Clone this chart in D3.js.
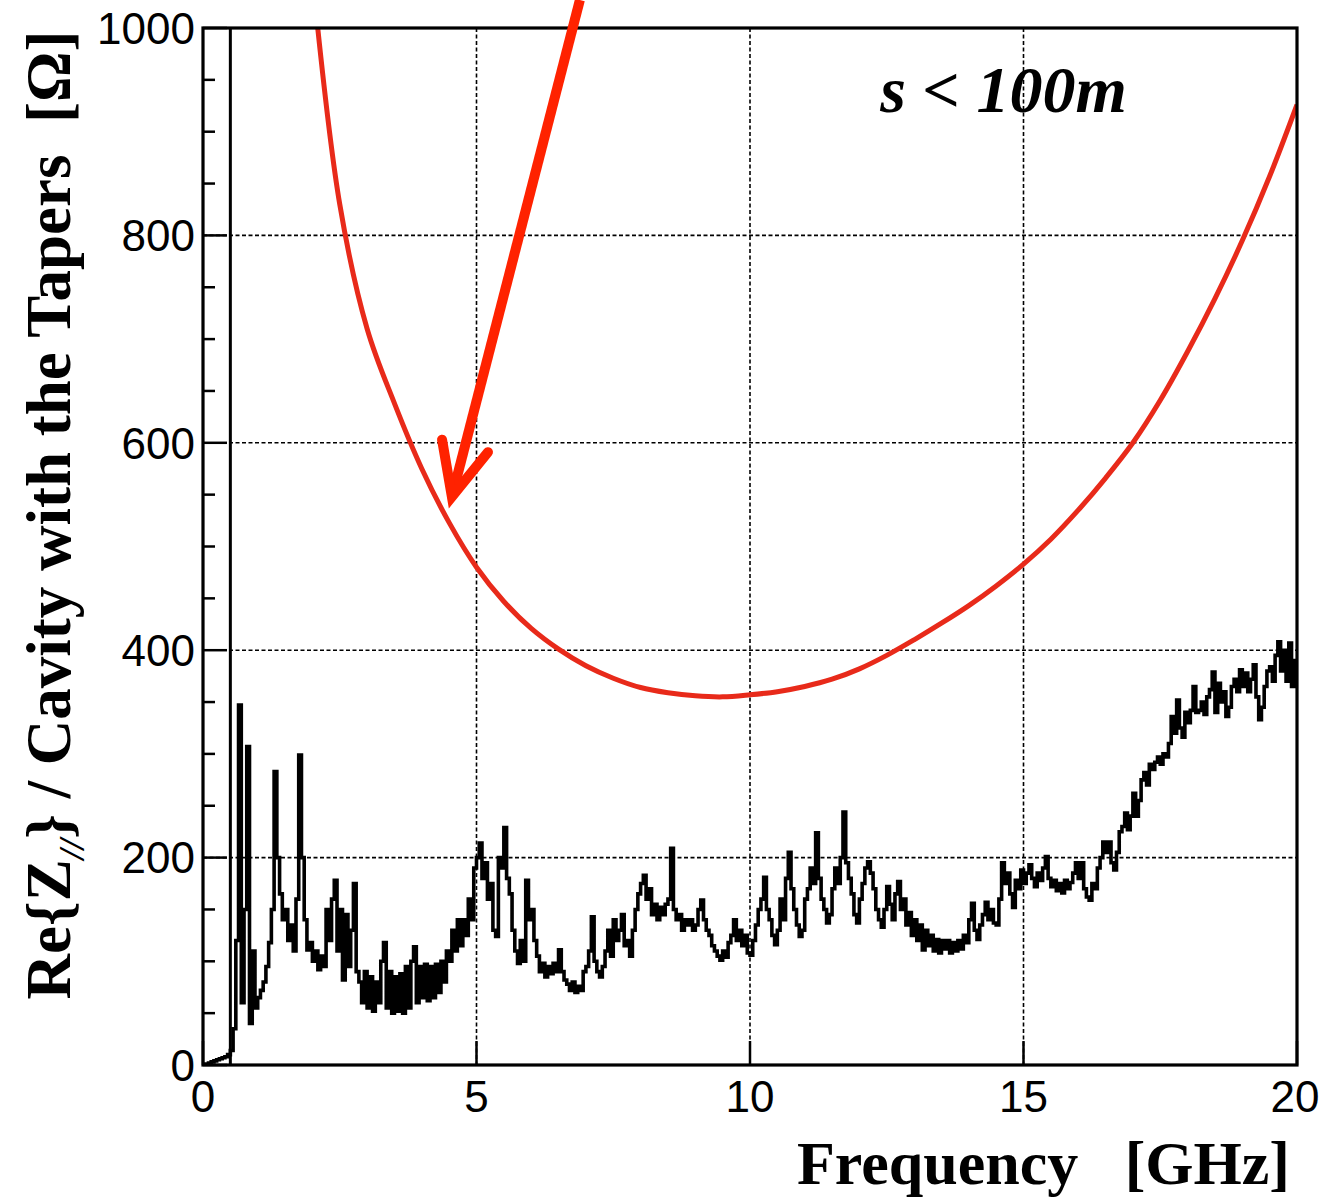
<!DOCTYPE html>
<html><head><meta charset="utf-8">
<script src="https://cdn.jsdelivr.net/npm/d3@7"></script>
<style>body{margin:0;background:#fff}svg{display:block}</style>
</head><body><svg id="c" width="1329" height="1202"></svg>
<script>
// ---- data ----
const xTicks = [0, 5, 10, 15, 20];
const yTicks = [0, 200, 400, 600, 800, 1000];
const yMinorStep = 50;
const binWidth = 0.05; // GHz per histogram bin
const measured = [
  0,1,2,3,4,5,6,7,8,10,14,35,120,347,60,150,307,40,110,55,
  65,72,80,95,118,150,283,200,165,140,150,120,135,110,160,299,200,140,111,118,
  100,110,92,105,95,150,120,160,178,110,150,82,145,95,130,175,90,80,60,90,
  55,85,52,80,60,100,118,55,90,50,85,52,88,50,95,55,100,114,60,95,
  65,97,62,95,65,97,70,100,80,110,100,130,110,140,115,140,125,160,140,190,
  200,214,180,195,160,175,130,124,200,190,229,180,165,130,110,98,120,100,178,140,
  150,120,105,90,98,85,95,88,98,90,111,90,82,78,72,80,70,76,72,90,
  95,110,143,100,90,85,95,110,130,105,140,120,130,145,115,120,105,130,150,165,
  175,183,160,170,145,155,140,152,145,155,160,209,150,140,145,130,140,135,140,130,
  135,150,159,140,130,125,115,110,105,101,110,104,118,125,140,120,130,115,125,108,
  106,120,135,150,160,181,150,140,125,116,130,160,140,180,205,170,150,135,124,130,
  160,170,190,175,224,180,160,150,137,145,170,190,175,200,244,195,180,165,145,137,
  160,175,190,196,185,170,150,140,133,150,172,155,140,165,177,150,160,135,147,125,
  140,120,135,111,130,115,125,110,121,108,120,112,120,108,118,110,120,112,125,118,
  140,156,130,121,135,145,157,140,150,137,135,160,195,175,185,165,152,178,170,188,
  175,185,193,180,172,185,178,190,201,180,172,178,168,175,166,178,170,176,185,195,
  180,195,170,162,159,175,170,190,200,215,205,215,195,188,205,225,230,243,227,240,
  262,240,255,275,282,270,290,285,292,297,290,300,297,310,336,320,352,325,316,340,
  330,342,365,340,342,350,338,355,362,379,340,368,350,360,336,345,365,372,360,381,
  365,378,360,372,386,355,333,345,365,380,384,370,395,408,380,400,370,407,365,390
];
const modelFreq = [2.0, 2.5, 3.0, 3.5, 4.0, 4.5, 5.0, 5.5, 6.0, 6.5, 7.0, 7.5, 8.0, 8.5, 9.0, 9.5, 10.0,
                   10.5, 11.0, 11.5, 12.0, 12.5, 13.0, 13.5, 14.0, 14.5, 15.0, 15.5, 16.0, 16.5, 17.0, 17.5, 18.0, 18.5, 19.0, 19.5, 20.0];
const modelZ    = [1050, 830, 710, 638, 575, 523, 480, 447, 421, 401, 385, 373, 364, 359, 356, 355, 357,
                   360, 365, 372, 382, 395, 410, 426, 443, 462, 483, 507, 535, 566, 600, 641, 688, 739, 795, 857, 926];
const cutoffFreq = 0.5;
const arrowShaft = [[6.89, 1027], [4.55, 548]];
const arrowHead = [[4.37, 603], [4.55, 548], [5.21, 591]];
const noteText = "s < 100m";
const noteAt = [12.38, 919];

// ---- layout ----
const W = 1329, H = 1202;
const m = {l: 203, t: 28, r: 32, b: 137};
const x = d3.scaleLinear().domain([0, 20]).range([m.l, W - m.r]);
const y = d3.scaleLinear().domain([0, 1000]).range([H - m.b, m.t]);
const svg = d3.select("#c");
const sans = "'Liberation Sans', Arial, sans-serif";
const serif = "'Liberation Serif', 'Times New Roman', serif";

svg.append("defs").append("clipPath").attr("id", "clip")
  .append("rect").attr("x", x(0)).attr("y", y(1000)).attr("width", x(20) - x(0)).attr("height", y(0) - y(1000));

// grid
const grid = svg.append("g").attr("stroke", "#000").attr("stroke-width", 1.6).attr("stroke-dasharray", "4,2.5");
grid.selectAll(".gx").data(xTicks.slice(1, -1)).join("line")
  .attr("x1", d => x(d)).attr("x2", d => x(d)).attr("y1", y(1000)).attr("y2", y(0));
grid.selectAll(".gy").data(yTicks.slice(1, -1)).join("line")
  .attr("y1", d => y(d)).attr("y2", d => y(d)).attr("x1", x(0)).attr("x2", x(20));

// ticks
const tk = svg.append("g").attr("stroke", "#000").attr("stroke-width", 2.5);
const yMinor = d3.range(0, 1000 + 1, yMinorStep);
tk.selectAll(".ym").data(yMinor).join("line")
  .attr("x1", x(0)).attr("x2", d => x(0) + (yTicks.includes(d) ? 24 : 12))
  .attr("y1", d => y(d)).attr("y2", d => y(d));
tk.selectAll(".xm").data(xTicks).join("line")
  .attr("x1", d => x(d)).attr("x2", d => x(d))
  .attr("y1", y(0)).attr("y2", y(0) - 24);

// cutoff line
svg.append("line").attr("x1", x(cutoffFreq)).attr("x2", x(cutoffFreq))
  .attr("y1", y(1000)).attr("y2", y(0)).attr("stroke", "#000").attr("stroke-width", 3);

// measured histogram
const pts = measured.map((v, i) => [i * binWidth, v]);
pts.push([20, measured[measured.length - 1]]);
svg.append("path").datum(pts)
  .attr("clip-path", "url(#clip)")
  .attr("fill", "none").attr("stroke", "#000").attr("stroke-width", 3.6)
  .attr("stroke-linejoin", "miter")
  .attr("d", d3.line().x(d => x(d[0])).y(d => y(d[1])).curve(d3.curveStepAfter));

// model curve
svg.append("path").datum(modelFreq.map((f, i) => [f, modelZ[i]]))
  .attr("clip-path", "url(#clip)")
  .attr("fill", "none").attr("stroke", "#e82a1a").attr("stroke-width", 5)
  .attr("d", d3.line().x(d => x(d[0])).y(d => y(d[1])).curve(d3.curveCatmullRom));

// frame
svg.append("rect").attr("x", x(0)).attr("y", y(1000)).attr("width", x(20) - x(0)).attr("height", y(0) - y(1000))
  .attr("fill", "none").attr("stroke", "#000").attr("stroke-width", 3.2);

// tick labels
svg.append("g").selectAll("text").data(yTicks).join("text")
  .attr("x", x(0) - 8).attr("y", d => y(d)).attr("dy", "0.36em")
  .attr("text-anchor", "end").attr("font-family", sans).attr("font-size", 44)
  .text(d => d);
svg.append("g").selectAll("text").data(xTicks).join("text")
  .attr("x", d => x(d) + (d === 20 ? -2 : 0)).attr("y", y(0) + 47)
  .attr("text-anchor", "middle").attr("font-family", sans).attr("font-size", 44)
  .text(d => d);

// axis titles
svg.append("text").attr("x", 1290).attr("y", 1184)
  .attr("text-anchor", "end").attr("font-family", serif).attr("font-weight", "bold")
  .attr("font-size", 62).style("white-space", "pre")
  .text("Frequency   [GHz]");

const yt = svg.append("text").attr("transform", "translate(70,515) rotate(-90)")
  .attr("text-anchor", "middle").attr("font-family", serif).attr("font-weight", "bold")
  .attr("font-size", 63).style("white-space", "pre");
yt.append("tspan").text("Re{Z");
yt.append("tspan").attr("font-size", 36).attr("font-style", "italic").attr("dy", 14).text("//");
yt.append("tspan").attr("dy", -14).text("} / Cavity with the Tapers  [\u03A9]");

// annotation text
svg.append("text").attr("x", x(noteAt[0])).attr("y", y(noteAt[1]))
  .attr("font-family", serif).attr("font-weight", "bold").attr("font-style", "italic")
  .attr("font-size", 66).style("white-space", "pre").text(noteText);

// red arrow
const al = d3.line().x(d => x(d[0])).y(d => y(d[1]));
svg.append("path").datum(arrowShaft).attr("d", al)
  .attr("fill", "none").attr("stroke", "#ff2200").attr("stroke-width", 10);
svg.append("path").datum(arrowHead).attr("d", al)
  .attr("fill", "none").attr("stroke", "#ff2200").attr("stroke-width", 10)
  .attr("stroke-linejoin", "miter").attr("stroke-linecap", "round");
</script>
</body></html>
